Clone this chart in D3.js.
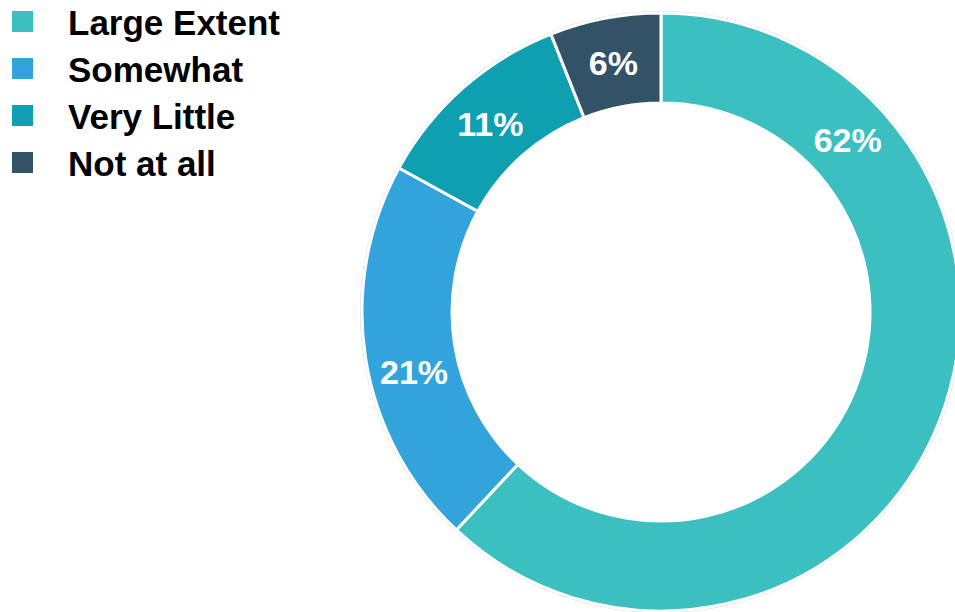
<!DOCTYPE html>
<html>
<head>
<meta charset="utf-8">
<script src="https://cdn.jsdelivr.net/npm/d3@7/dist/d3.min.js"></script>
<style>
  html, body { margin: 0; padding: 0; background: #fff; }
  svg { display: block; }
</style>
</head>
<body>
<svg id="chart" width="955" height="612"></svg>
<script>
// Survey responses, in slice order (clockwise from 12 o'clock)
const categories = ["Large Extent", "Somewhat", "Very Little", "Not at all"];
const values = [62, 21, 11, 6];
const colors = ["#3bbfc0", "#33a3dc", "#0e9fb1", "#325367"];
// Where each percentage label sits along its slice (0 = start, 1 = end)
const labelAlong = [0.212, 0.44, 0.48, 0.5];

const svg = d3.select("#chart");
const cx = 661, cy = 312;
const outerR = 299, innerR = 209;

const pie = d3.pie().sort(null).value(d => d);
const arcs = pie(values);

const arc = d3.arc().innerRadius(innerR).outerRadius(outerR);

const g = svg.append("g").attr("transform", `translate(${cx},${cy})`);

// faint outline just outside the ring
g.append("circle")
  .attr("r", outerR + 1.5)
  .attr("fill", "none")
  .attr("stroke", "#d9d9d9")
  .attr("stroke-width", 1);

g.selectAll("path.slice")
  .data(arcs)
  .enter().append("path")
  .attr("class", "slice")
  .attr("d", arc)
  .attr("fill", (d, i) => colors[i])
  .attr("stroke", "#fff")
  .attr("stroke-width", 3)
  .attr("stroke-linejoin", "miter");

const midR = (innerR + outerR) / 2;
g.selectAll("text.pct")
  .data(arcs)
  .enter().append("text")
  .attr("class", "pct")
  .each(function (d, i) {
    const a = d.startAngle + (d.endAngle - d.startAngle) * labelAlong[i];
    d3.select(this)
      .attr("x", midR * Math.sin(a))
      .attr("y", -midR * Math.cos(a));
  })
  .attr("text-anchor", "middle")
  .attr("dy", "0.36em")
  .attr("fill", "#fff")
  .attr("font-family", "Liberation Sans, Arial, sans-serif")
  .attr("font-weight", "bold")
  .attr("font-size", 34)
  .text(d => d.data + "%");

// Legend
const legend = svg.append("g");
const rows = legend.selectAll("g")
  .data(categories)
  .enter().append("g")
  .attr("transform", (d, i) => `translate(0, ${35 + i * 47})`);

rows.append("rect")
  .attr("x", 12).attr("y", -24)
  .attr("width", 21).attr("height", 21)
  .attr("fill", (d, i) => colors[i]);

rows.append("text")
  .attr("x", 68).attr("y", 0)
  .attr("font-family", "Liberation Sans, Arial, sans-serif")
  .attr("font-weight", "bold")
  .attr("font-size", 35)
  .attr("fill", "#000")
  .text(d => d);
</script>
</body>
</html>
